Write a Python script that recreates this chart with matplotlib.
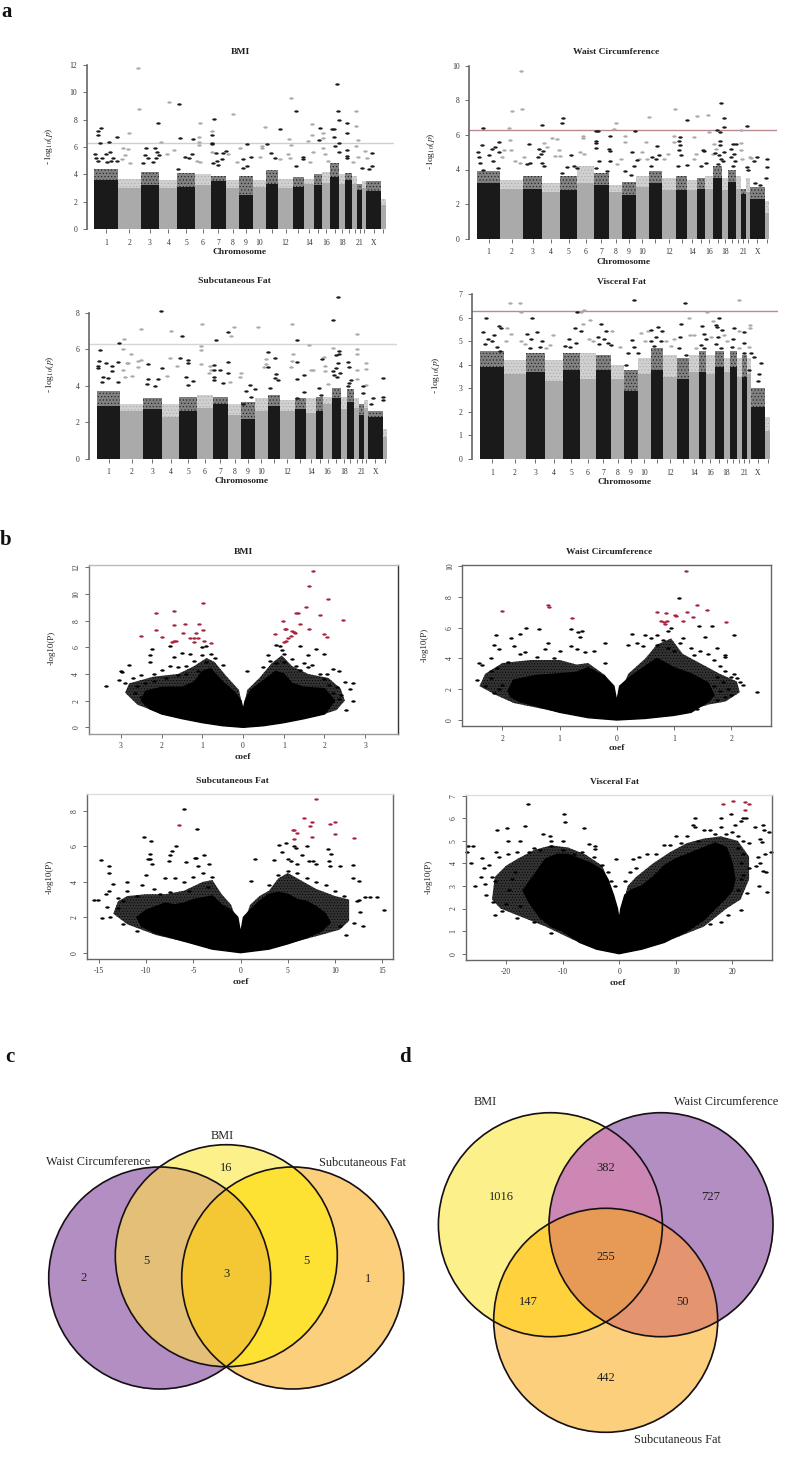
import numpy as np
import matplotlib
matplotlib.use('Agg')
import matplotlib.pyplot as plt
from matplotlib.markers import MarkerStyle
from matplotlib.patches import Circle
from matplotlib.transforms import Affine2D

plt.rcParams['font.family'] = ['Liberation Serif', 'DejaVu Serif']
plt.rcParams['mathtext.fontset'] = 'stix'
plt.rcParams['hatch.linewidth'] = 0.4

W, H = 800, 1459

# Manhattan: chromosome widths along the genome axis, tick labels
chrom_width = [71, 68, 56, 54, 52, 48, 46, 40, 40, 39, 38, 43, 34, 30, 23, 25, 27, 18, 22, 15, 15, 12, 44, 14]
chrom_labels = ['1', '2', '3', '4', '5', '6', '7', '8', '9', '10', '', '12', '', '14', '', '16', '', '18', '', '', '21', '', 'X', '']

# height of the solid part and of the speckled part, per chromosome
bmi_solid = [3.6, 3.0, 3.2, 3.0, 3.1, 3.2, 3.5, 3.0, 2.5, 3.1, 3.3, 3.0, 3.1, 3.3, 3.2, 3.4, 3.8, 3.3, 3.6, 3.3, 2.9, 3.0, 2.8, 1.8]
bmi_band = [4.4, 3.7, 4.2, 3.6, 4.1, 4.0, 3.9, 3.6, 3.9, 3.6, 4.3, 3.7, 3.8, 3.7, 4.0, 4.2, 4.8, 4.0, 4.1, 3.9, 3.3, 3.5, 3.5, 2.2]
waist_solid = [3.2, 2.9, 2.9, 2.7, 2.8, 3.2, 3.1, 2.7, 2.5, 3.0, 3.2, 2.8, 2.8, 2.8, 2.9, 2.9, 3.5, 2.8, 3.3, 2.9, 2.6, 2.7, 2.3, 1.5]
waist_band = [3.9, 3.4, 3.6, 3.2, 3.6, 4.2, 3.8, 3.1, 3.3, 3.6, 3.9, 3.5, 3.6, 3.4, 3.5, 3.6, 4.2, 3.5, 4.0, 3.6, 2.9, 3.5, 3.0, 2.2]
sub_solid = [2.9, 2.6, 2.7, 2.3, 2.6, 2.8, 3.0, 2.4, 2.2, 2.6, 2.9, 2.6, 2.7, 2.5, 2.6, 3.0, 3.3, 2.7, 3.1, 2.8, 2.4, 2.8, 2.3, 1.2]
sub_band = [3.7, 3.0, 3.3, 3.0, 3.4, 3.5, 3.4, 3.0, 3.1, 3.3, 3.5, 3.2, 3.3, 3.3, 3.4, 3.4, 3.9, 3.4, 3.8, 3.3, 3.0, 3.2, 2.6, 1.6]
visc_solid = [3.9, 3.6, 3.7, 3.3, 3.8, 3.4, 3.8, 3.4, 2.9, 3.6, 3.8, 3.5, 3.4, 3.7, 3.7, 3.6, 3.9, 3.7, 3.9, 3.5, 3.5, 3.6, 2.2, 1.2]
visc_band = [4.6, 4.2, 4.5, 4.2, 4.5, 4.5, 4.4, 4.0, 3.8, 4.3, 4.7, 4.4, 4.3, 4.4, 4.6, 4.4, 4.6, 4.3, 4.6, 4.3, 4.4, 4.3, 3.0, 1.8]

# top points (genome position + panel start, -log10 p)
bmi_dark = [(293, 7.2), (302, 7.4), (293, 6.85), (300, 6.3), (328, 6.4), (352, 6.7), (286, 5.5), (287, 5.2), (318, 5.5), (330, 5.6), (305, 5.2), (338, 5.2), (352, 5.0), (334, 5.0), (295, 5.0), (320, 4.9),
            (438, 5.95), (466, 5.9), (475, 7.75), (436, 5.4), (472, 5.6), (476, 5.4), (468, 5.2), (445, 5.2), (430, 4.8), (460, 4.9),
            (536, 9.1), (540, 6.65), (578, 6.55), (556, 5.25), (566, 5.2), (575, 5.5), (535, 4.4),
            (643, 8.05), (636, 6.85), (636, 6.3), (636, 6.2), (648, 5.55), (668, 5.55), (677, 5.7), (650, 5.0), (665, 5.1), (640, 4.8), (655, 4.7),
            (742, 6.2), (730, 5.1), (752, 5.25), (742, 4.6), (728, 4.5), (800, 6.2), (813, 5.55), (825, 5.2), (840, 7.3), (888, 8.6), (888, 4.6), (908, 5.3), (908, 5.15),
            (960, 7.35), (958, 6.5), (1010, 10.6), (1015, 8.6), (1017, 7.95), (1003, 7.3), (995, 7.3), (1002, 6.75), (1017, 6.3), (1005, 6.05), (1018, 5.65),
            (1040, 7.75), (1042, 7.0), (1040, 5.8), (1040, 5.35), (1040, 5.2), (1085, 4.5), (1115, 5.55), (1115, 4.6), (1108, 4.4)]
bmi_light = [(414, 11.75), (416, 8.8), (387, 7.05), (507, 9.3), (600, 7.75), (698, 8.4), (872, 9.6), (1067, 8.65), (1067, 7.5), (1073, 6.5), (1067, 6.1), (796, 7.45), (866, 6.6), (936, 7.7), (936, 6.85), (968, 7.0), (968, 6.65), (925, 6.45), (873, 6.15), (483, 6.35),
             (597, 6.7), (597, 6.4), (597, 6.15), (635, 7.2), (720, 5.9), (785, 6.05), (785, 5.9), (370, 5.95), (384, 5.85), (375, 5.4), (365, 5.1), (390, 4.8), (500, 5.5), (522, 5.75), (590, 5.0), (600, 4.9), (635, 5.6), (685, 5.5), (710, 4.9), (780, 5.3), (840, 5.1), (865, 5.5), (870, 5.2), (930, 4.9), (940, 5.6), (970, 5.9), (975, 5.5), (985, 5.0), (1060, 4.9), (1075, 5.3), (1095, 5.7), (1100, 5.2)]
waist_dark = [(248, 6.4), (246, 5.4), (233, 5.0), (236, 4.7), (297, 5.6), (286, 5.3), (275, 5.2), (266, 4.85), (298, 5.0), (280, 4.5), (295, 4.1), (240, 4.4), (250, 4.0),
              (424, 6.6), (387, 5.45), (415, 5.2), (428, 5.05), (423, 4.9), (412, 4.7), (388, 4.4), (425, 4.35), (380, 4.3), (430, 4.2),
              (487, 7.0), (485, 6.7), (511, 4.85), (485, 3.8), (500, 4.15), (520, 4.2), (530, 4.1),
              (587, 6.25), (593, 6.2), (585, 5.65), (585, 5.55), (585, 5.25), (628, 5.95), (625, 5.2), (628, 5.05), (628, 4.5), (595, 4.5), (585, 4.1), (620, 3.9),
              (702, 6.2), (695, 5.0), (710, 4.55), (700, 4.2), (672, 3.9), (690, 3.7), (770, 5.35), (775, 4.85), (765, 4.6), (755, 4.7), (750, 4.2),
              (857, 6.85), (838, 5.9), (833, 5.65), (838, 5.4), (833, 5.1), (840, 4.85), (858, 4.25), (832, 4.2), (905, 5.1), (910, 5.05), (915, 4.4), (900, 4.2),
              (961, 7.85), (968, 7.0), (968, 6.45), (947, 6.3), (956, 6.15), (956, 5.65), (956, 5.4), (943, 4.95), (955, 4.85), (968, 5.0), (960, 4.6), (965, 4.5), (950, 4.3),
              (995, 5.45), (1005, 5.45), (990, 5.2), (1000, 4.9), (990, 4.7), (1003, 4.5), (995, 4.2), (1038, 6.5), (1038, 4.15), (1040, 4.0),
              (1068, 4.7), (1058, 4.5), (1097, 4.6), (1097, 4.15), (1095, 3.5), (1075, 3.1), (1060, 3.2)]
waist_light = [(362, 9.7), (334, 7.4), (364, 7.5), (325, 6.4), (328, 5.7), (312, 5.1), (332, 5.1), (345, 4.5), (360, 4.4), (370, 4.75), (305, 4.7), (430, 5.55), (455, 5.8), (471, 5.75), (475, 5.1), (440, 5.3), (465, 4.8), (478, 4.8),
               (547, 5.95), (547, 5.8), (540, 5.0), (550, 4.9), (640, 6.35), (647, 6.7), (672, 5.95), (672, 5.6), (660, 4.6), (650, 4.3), (745, 7.05), (735, 5.6), (725, 5.0), (715, 4.6), (740, 4.6), (823, 7.5), (820, 5.95), (818, 5.6), (800, 4.9), (790, 4.6),
               (880, 5.85), (887, 7.1), (921, 7.15), (925, 6.15), (885, 4.9), (878, 4.6), (940, 5.5), (945, 5.2), (935, 4.9), (1020, 6.3), (1018, 5.55), (1020, 5.1), (1022, 4.6), (1045, 4.7), (1050, 4.65)]
sub_dark = [(300, 5.95), (298, 5.35), (295, 5.1), (293, 4.95), (318, 5.25), (335, 5.1), (355, 5.3), (357, 6.35), (335, 4.8), (325, 4.4), (310, 4.5), (305, 4.2), (355, 4.2),
            (445, 5.2), (483, 8.1), (486, 4.95), (475, 4.35), (445, 4.35), (465, 4.0), (440, 4.1), (547, 6.75), (542, 5.5), (564, 5.4), (564, 5.25), (558, 4.5), (580, 4.25), (565, 4.05),
            (649, 6.5), (684, 6.95), (684, 5.3), (684, 4.7), (660, 4.85), (642, 5.15), (642, 4.85), (642, 4.5), (642, 4.3), (670, 4.15), (750, 4.05), (738, 3.7), (765, 3.8), (730, 3.0), (755, 3.4),
            (806, 5.85), (825, 5.5), (806, 5.0), (830, 4.65), (825, 4.4), (835, 4.3), (810, 3.9), (893, 6.5), (891, 5.3), (891, 4.35), (912, 4.6), (913, 3.65), (892, 3.3), (967, 5.45), (958, 3.85), (965, 3.5),
            (1000, 7.6), (1016, 8.85), (1020, 5.9), (1020, 5.75), (1010, 5.7), (1015, 5.25), (1010, 4.95), (1005, 4.6), (1012, 4.5), (1022, 4.7), (1000, 4.8), (1047, 5.3), (1049, 5.0), (1050, 4.15), (1055, 4.3), (1045, 4.0),
            (1090, 4.0), (1090, 3.6), (1150, 4.4), (1150, 3.4), (1150, 3.2), (1120, 3.35), (1115, 3.0)]
sub_light = [(373, 6.55), (368, 6.0), (393, 5.75), (368, 4.85), (375, 4.5), (385, 5.25), (380, 5.25), (395, 4.55), (415, 5.35), (423, 5.4), (414, 5.05), (422, 7.1), (514, 7.0), (510, 5.5), (532, 5.1), (500, 4.55),
             (606, 7.4), (603, 6.15), (603, 5.95), (603, 5.2), (630, 5.1), (633, 4.85), (628, 4.7), (703, 7.2), (693, 6.7), (724, 4.7), (722, 4.45), (690, 4.2), (775, 7.2), (878, 7.4), (880, 5.75), (878, 5.35), (875, 5.0), (798, 5.45), (800, 5.2), (792, 5.0),
             (930, 6.25), (935, 4.85), (942, 4.85), (1000, 6.05), (975, 5.6), (977, 5.1), (977, 4.8), (985, 4.1), (1073, 6.85), (1073, 6.0), (1073, 5.75), (1100, 5.25), (1100, 4.9), (1072, 4.85), (1072, 4.35), (1100, 4.05)]
visc_dark = [(258, 6.0), (249, 5.4), (283, 5.25), (298, 5.65), (302, 5.55), (265, 5.1), (275, 5.0), (255, 4.9), (290, 4.75), (300, 4.6), (383, 5.3), (398, 6.0), (413, 5.4), (393, 5.1), (428, 5.0), (420, 4.75), (390, 4.7),
             (532, 6.25), (526, 5.55), (543, 5.45), (507, 5.1), (530, 4.95), (495, 4.8), (512, 4.75), (605, 5.75), (620, 5.45), (597, 5.2), (615, 5.1), (625, 4.95), (635, 4.85), (600, 4.9),
             (705, 6.75), (697, 5.05), (703, 4.75), (687, 4.5), (715, 4.5), (680, 4.0), (755, 5.5), (775, 5.6), (788, 5.45), (770, 5.2), (755, 5.0), (785, 5.0), (765, 4.8),
             (857, 6.65), (845, 5.75), (843, 5.2), (840, 4.7), (862, 4.4), (910, 5.65), (915, 5.3), (922, 5.1), (905, 4.85), (915, 4.7), (960, 6.0), (950, 5.7), (955, 5.6), (968, 5.5), (957, 5.2), (950, 4.9), (965, 4.7),
             (1007, 5.55), (1003, 5.1), (1000, 4.75), (1037, 5.4), (1035, 4.95), (1037, 4.5), (1058, 4.5), (1067, 4.35), (1088, 4.1), (1050, 3.8), (1080, 3.6), (1078, 3.3)]
visc_light = [(330, 6.65), (360, 6.62), (363, 6.25), (320, 5.55), (318, 5.0), (333, 5.3), (365, 5.0), (375, 4.9), (460, 5.25), (450, 4.85), (440, 4.7), (543, 6.25), (552, 6.35), (550, 5.75), (573, 5.9), (570, 5.1), (580, 5.0), (637, 5.45), (663, 4.75),
              (725, 5.35), (745, 5.45), (738, 5.0), (800, 5.0), (825, 5.1), (815, 4.8), (870, 6.0), (873, 5.25), (885, 5.25), (890, 4.7), (925, 6.25), (943, 5.85), (935, 5.2), (975, 5.25), (985, 5.0), (1022, 6.75), (1053, 5.7), (1053, 5.55), (1020, 5.45), (1050, 4.75), (1020, 4.7)]

# Volcano: outline of the dense cloud and of the speckled zone round it (coef, -log10 p), then separate points
v_bmi_cloud = [(0, 0), (-0.5, 0.12), (-1, 0.35), (-1.5, 0.65), (-2, 1.0), (-2.3, 1.4), (-2.5, 2.0), (-2.4, 2.7), (-2, 3.0), (-1.5, 3.0), (-1.2, 3.4), (-1, 4.2), (-0.8, 4.4), (-0.5, 3.4), (-0.2, 2.6), (-0.05, 2.0), (0, 1.3),
               (0.05, 2.0), (0.2, 2.8), (0.5, 3.5), (0.8, 4.2), (1, 4.0), (1.2, 3.3), (1.5, 3.0), (2, 2.9), (2.25, 2.0), (2.1, 1.4), (2, 1.0), (1.5, 0.65), (1, 0.35), (0.5, 0.12)]
v_bmi_halo = [(0, 0), (-2, 1.0), (-2.6, 1.7), (-2.9, 2.6), (-2.8, 3.3), (-2.2, 3.8), (-1.6, 4.0), (-1.2, 4.6), (-0.9, 5.2), (-0.7, 4.9), (-0.4, 3.8), (-0.1, 2.8), (0, 1.3), (0.1, 2.8), (0.4, 3.7), (0.7, 4.8), (0.95, 5.4), (1.2, 4.6), (1.6, 4.0), (2.1, 3.7), (2.4, 2.9), (2.5, 2.0), (2.3, 1.3), (2, 1)]
v_bmi_red = [(1.72, 11.75), (1.63, 10.6), (2.08, 9.6), (1.55, 9.05), (1.3, 8.6), (1.35, 8.55), (1.9, 8.4), (0.97, 7.95), (2.45, 8.05), (1.4, 7.75), (1.03, 7.4), (1.06, 7.35), (1.63, 7.4), (1.2, 7.25), (1.25, 7.15), (1.27, 7.05), (0.78, 7.0), (1.99, 7.0), (2.05, 6.75), (1.18, 6.85), (1.1, 6.7), (1.05, 6.5), (1.0, 6.4),
             (-0.98, 9.3), (-1.69, 8.75), (-2.13, 8.55), (-1.09, 7.72), (-1.43, 7.75), (-1.7, 7.7), (-2.13, 7.3), (-0.98, 7.3), (-1.48, 7.05), (-1.15, 7.1), (-2.5, 6.85), (-2.0, 6.8), (-1.3, 6.7), (-1.2, 6.7), (-1.1, 6.7), (-1.7, 6.45), (-1.65, 6.45), (-1.75, 6.4), (-1.2, 6.4), (-0.95, 6.45), (-0.8, 6.3)]
v_bmi_black = [(-0.9, 6.1), (-1.0, 6.0), (-2.25, 5.9), (-1.8, 6.1), (-2.3, 5.4), (0.9, 6.1), (0.8, 6.2), (1.4, 6.1), (1.8, 5.9), (2.0, 5.5), (0.95, 5.8), (1.0, 5.5), (1.6, 5.4), (0.6, 5.4), (-1.5, 5.6), (-1.3, 5.5), (-0.8, 5.5), (-1.0, 5.4), (-1.7, 5.3), (-2.3, 4.9), (-2.8, 4.7), (-3.0, 4.25), (-3.37, 3.1), (-3.05, 3.55), (-2.98, 4.17),
               (2.5, 3.4), (2.7, 3.3), (2.71, 2.0), (2.52, 1.28), (2.63, 2.9), (2.4, 2.4), (2.2, 4.4), (2.35, 4.2), (2.3, 3.0), (2.05, 4.0), (0.1, 4.2), (1.3, 4.6), (1.5, 4.8), (1.7, 4.7), (0.5, 4.5), (0.65, 5.0), (0.8, 4.8), (1.0, 4.9), (1.2, 5.1), (1.4, 4.3), (1.6, 4.5), (1.9, 4.0), (2.0, 3.6),
               (-0.5, 4.7), (-0.7, 5.2), (-0.9, 4.9), (-1.2, 5.0), (-1.4, 4.6), (-1.6, 4.5), (-1.8, 4.6), (-2.0, 4.3), (-2.2, 4.0), (-2.5, 3.9), (-2.7, 3.7), (-2.9, 3.3), (-2.6, 3.1), (-2.4, 3.3), (-2.2, 3.5), (-1.9, 3.7), (-1.6, 3.9), (-1.4, 4.0), (-1.1, 4.2), (2.1, 3.2), (2.2, 2.6), (2.35, 2.1), (-2.65, 2.6), (-2.5, 2.3)]
v_waist_cloud = [(0, 0), (-0.5, 0.15), (-1, 0.5), (-1.4, 0.9), (-1.7, 1.2), (-1.85, 1.5), (-1.9, 1.9), (-1.8, 2.6), (-1.4, 2.9), (-1, 3.0), (-0.7, 3.1), (-0.5, 3.4), (-0.2, 2.8), (-0.05, 2.2), (0, 1.2),
                 (0.05, 2.2), (0.2, 2.7), (0.5, 3.5), (0.7, 4.0), (1, 3.4), (1.3, 3.0), (1.6, 2.4), (1.7, 1.6), (1.6, 1.2), (1.3, 0.5), (1, 0.3), (0.5, 0.1)]
v_waist_halo = [(0, 0), (-1, 0.5), (-1.8, 1.1), (-2.1, 1.6), (-2.4, 2.2), (-2.3, 3.0), (-2.0, 3.7), (-1.5, 3.9), (-1.0, 3.9), (-0.7, 3.6), (-0.5, 3.7), (-0.2, 2.9), (0, 1.2), (0.2, 3.0), (0.5, 4.0), (0.7, 4.9), (0.95, 5.3), (1.15, 4.3), (1.5, 3.6), (1.8, 3.0), (2.1, 2.5), (2.15, 1.8), (1.9, 1.2), (1.6, 1.0), (1, 0.3)]
v_waist_red = [(1.21, 9.7), (-1.21, 7.45), (-1.19, 7.35), (-2.0, 7.05), (-0.78, 6.6), (1.41, 7.5), (1.57, 7.15), (0.71, 7.0), (0.86, 6.95), (1.22, 7.0), (1.02, 6.85), (1.03, 6.75), (1.33, 6.7), (1.15, 6.45), (1.91, 6.35), (0.77, 6.4), (0.83, 6.35), (0.87, 6.4), (0.85, 6.25)]
v_waist_black = [(1.08, 7.9), (1.43, 6.1), (1.67, 6.1), (-1.59, 5.95), (-1.36, 5.9), (-2.11, 5.5), (-1.85, 5.35), (-1.69, 5.6), (-0.8, 5.9), (-0.67, 5.7), (-0.6, 5.8), (-0.65, 5.4), (0.27, 5.6), (2.05, 5.5), (1.55, 5.4), (1.75, 4.7), (1.9, 4.2), (1.9, 4.1), (0.9, 5.8), (0.95, 6.0), (0.7, 5.5), (0.5, 5.5), (0.6, 5.3), (0.8, 5.2), (1.1, 5.0), (1.15, 5.3), (0.35, 5.0), (0.2, 4.9), (0.45, 4.8), (0.7, 4.9), (0.9, 4.7), (1.0, 4.5), (1.3, 4.7), (1.45, 4.5), (1.6, 4.3), (1.35, 4.2),
                 (-2.15, 4.9), (-2.05, 4.6), (-1.8, 4.8), (-1.6, 4.4), (-1.7, 4.3), (-2.2, 4.0), (-2.4, 3.7), (-2.35, 3.6), (-2.2, 3.2), (-2.1, 3.4), (-1.9, 3.8), (-1.2, 5.0), (-1.25, 4.6), (-1.0, 4.5), (-0.8, 4.8), (-0.7, 4.6), (-0.55, 4.4), (-0.2, 5.0), (-0.4, 4.5), (-1.4, 4.1), (-1.1, 4.0), (-0.2, 3.7),
                 (-2.45, 2.6), (-2.3, 2.2), (-2.2, 2.7), (-2.05, 2.0), (-2.15, 1.75), (-2.0, 2.3), (2.45, 1.8), (2.2, 2.3), (2.1, 2.7), (2.15, 2.5), (1.95, 2.0), (2.0, 2.8), (2.05, 3.0), (2.0, 1.6), (1.9, 1.5), (1.8, 1.9), (1.9, 3.2), (1.8, 3.5), (1.7, 3.9), (1.75, 2.8), (1.85, 2.5), (1.7, 2.2), (1.75, 1.3), (1.4, 0.7)]
v_sub_cloud = [(0, 0), (-3, 0.2), (-5, 0.5), (-7, 0.8), (-9, 1.1), (-10.5, 1.5), (-11, 2.0), (-10, 2.4), (-9, 2.6), (-8, 2.8), (-7, 2.7), (-6, 2.8), (-5, 3.0), (-4, 3.1), (-3, 3.2), (-2, 2.7), (-1, 2.4), (-0.3, 2.0), (0, 1.1),
               (0.3, 2.0), (1, 2.4), (2, 2.9), (3, 3.3), (4, 3.4), (5, 3.3), (6, 3.0), (7, 2.9), (8, 2.6), (9, 2.2), (9.5, 1.7), (8.5, 1.2), (7, 0.85), (5, 0.5), (3, 0.2)]
v_sub_halo = [(0, 0), (-5, 0.5), (-9, 1.0), (-12, 1.6), (-13.5, 2.2), (-13, 2.9), (-12, 3.2), (-10, 3.3), (-8, 3.3), (-6, 3.5), (-4, 4.0), (-3, 4.1), (-2, 3.3), (-1, 2.7), (0, 1.1), (1, 2.7), (2, 3.2), (3, 3.5), (4, 4.2), (5, 4.5), (6, 4.2), (8, 3.6), (10, 3.2), (11.5, 3.0), (11.5, 1.8), (10.5, 1.3), (8.5, 1.0), (5, 0.5)]
v_sub_red = [(-6.5, 7.2), (5.5, 6.9), (5.7, 6.95), (6, 6.75), (5.7, 6.4), (12, 6.5), (7.3, 7.15), (7.6, 7.4), (9.5, 7.25), (10, 7.4), (10, 6.7), (7.6, 6.55), (6.7, 7.6), (8, 8.65)]
v_sub_black = [(-6, 8.1), (-4.6, 7.0), (-10.2, 6.55), (-9.5, 6.3), (-6.9, 6.0), (-7.3, 5.75), (-7.5, 5.5), (-7.6, 5.2), (-9.6, 5.55), (-9.8, 5.3), (-9.6, 5.3), (-9.4, 5.0), (-14.8, 5.25), (-13.9, 4.9), (-14, 4.5), (-4.8, 5.35), (-4.7, 5.35), (-3.9, 5.5), (-5.8, 5.1), (-4.5, 4.9), (-3.3, 5.0), (1.5, 5.3), (1.1, 4.05), (3.5, 5.25), (4.1, 6.1), (4.8, 6.2), (5.7, 6.0), (5.9, 5.9), (7, 6.0), (4.4, 5.7), (5, 5.3), (5.3, 5.2), (6, 5.0), (6.5, 5.5), (7.2, 5.2), (7.7, 5.2), (8, 5.0), (9.3, 5.85), (9.6, 5.6), (9.4, 5.2), (9.5, 4.9), (10.5, 4.9), (11.9, 4.95), (11.9, 4.2), (12.5, 4.05),
               (13.2, 3.15), (13.7, 3.15), (14.4, 3.15), (15.2, 2.43), (12.5, 3.0), (12.3, 2.9), (12.6, 2.3), (13, 1.5), (12, 1.7), (11.2, 1.0), (10.5, 1.5), (11, 3.2), (10, 3.5), (9, 3.8), (8, 4.0), (7, 4.2), (6, 4.5), (5, 4.6), (4, 4.4), (3, 3.8), (-15.5, 2.95), (-15.1, 3.0), (-14.3, 3.3), (-13.9, 3.5), (-14.2, 2.6), (-13.8, 2), (-14.7, 1.95), (-13.5, 3.9), (-13, 2.5), (-12.5, 1.6), (-12, 4), (-12, 3.5), (-11, 1.2), (-11, 3.2), (-10, 4.4), (-10.5, 3.8), (-9.2, 3.6), (-8, 4.2), (-7, 4.2), (-6, 4.0), (-5, 4.3), (-4, 4.5), (-3, 4.3), (-3.5, 3.7), (-5.5, 3.5), (-7.5, 3.4), (-8.5, 3.3), (-12.5, 2.9), (-13, 3.1)]
v_visc_cloud = [(0, 0), (-4, 0.2), (-7, 0.5), (-10, 1.0), (-12, 1.2), (-14, 1.6), (-16, 2.3), (-17, 2.8), (-15, 3.5), (-13, 4.2), (-11, 4.4), (-9, 4.4), (-7, 4.2), (-5, 4.0), (-3, 3.7), (-2, 3.3), (-1, 2.6), (-0.3, 2.0), (0, 1.5),
                (0.3, 2.0), (1, 2.6), (2, 2.8), (4, 3.0), (6, 3.4), (8, 3.9), (10, 4.2), (13, 4.5), (15, 4.7), (17, 4.9), (19, 4.7), (20, 4.0), (20.5, 3.3), (20, 2.8), (19, 2.5), (17, 2.0), (15, 1.5), (12, 1.0), (8, 0.5), (4, 0.2)]
v_visc_halo = [(0, 0), (-8, 0.6), (-13, 1.2), (-18, 1.7), (-21, 2.0), (-22.5, 2.4), (-22, 3.4), (-20, 3.9), (-18, 4.2), (-15, 4.6), (-12, 4.8), (-9, 4.7), (-6, 4.4), (-3, 3.9), (-1.5, 3), (0, 1.5), (1.5, 3.0), (3, 3.4), (6, 4.0), (9, 4.5), (12, 4.9), (15, 5.1), (18, 5.2), (21, 5.0), (23, 4.3), (23, 3.3), (21.5, 2.4), (19, 2.0), (15, 1.2), (10, 0.7)]
v_visc_red = [(18.3, 6.65), (20.1, 6.75), (22.2, 6.72), (22.9, 6.65), (22.2, 6.37)]
v_visc_black = [(-16.2, 6.65), (-9.7, 6.2), (-9.6, 5.85), (-6.2, 5.55), (-16.6, 5.65), (-21.6, 5.5), (-19.9, 5.55), (-19.6, 5.0), (-17.6, 5.0), (-13.5, 5.3), (-12.3, 5.2), (-12, 5.0), (-10, 5.0), (-5.4, 4.85), (-4.2, 4.75), (-4.2, 4.65), (-25.8, 4.75), (-26.7, 4.75), (-26.9, 4.5), (-26.3, 4.0), (-24.2, 4.25), (-23, 3.95), (-24, 3.8), (-21.8, 4.5), (-21.2, 4.3), (-19.7, 4.4), (-18, 4.5), (-16, 4.5), (-15, 4.7), (-14, 4.6), (-12, 4.75), (-10, 4.6), (-8, 4.4), (-6.5, 4.5), (-4.5, 4.3), (-3, 3.95), (-0.5, 4.2),
                (-24.5, 3.4), (-25.5, 3.0), (-23.8, 3.1), (-23.5, 2.6), (-22.5, 3.4), (-22, 3.2), (-22.4, 2.3), (-22, 1.7), (-20.8, 1.9), (-20, 2.2), (-19.5, 2.8), (-19, 3.3), (-18.5, 3.6), (-17.5, 2.1), (-18, 1.6), (-15, 1.4), (-12, 0.9),
                (13.5, 5.6), (13, 5.7), (13.5, 6.0), (16, 5.5), (18, 6.0), (19.8, 6.2), (21.5, 5.9), (20.5, 5.7), (22, 6.0), (22.5, 6.0), (24, 5.6), (25.5, 5.7), (25.6, 5.5), (26.5, 5.4), (25, 5.1), (25.3, 4.95), (26.8, 4.5), (24.5, 4.3), (25.8, 4.4), (25, 4), (24.3, 3.9), (25.5, 3.65), (26, 3.6), (24.8, 3.0), (26.2, 2.75), (22.6, 2.7), (21.5, 1.95), (21, 2.8), (19.3, 1.7), (18, 1.4), (16, 1.3),
                (10, 5.2), (8, 4.8), (9, 4.8), (6.5, 4.4), (5, 4.4), (3.5, 4.3), (2.5, 4.2), (11, 4.9), (12, 5.2), (14, 5.0), (15, 5.5), (17, 5.3), (18, 5.6), (19, 5.3), (20, 5.4), (21, 5.2), (22, 5.0), (23, 4.9), (21, 4.7), (22, 4.4), (21.5, 4), (22, 3.5), (23, 3.8), (21.5, 3.3), (2, 3.6), (3, 3.8), (1, 3.2), (-0.8, 3.0), (-2, 3.6), (-1.5, 3.2)]

# Venn counts
venn_c_counts = [16, 5, 2, 3, 5, 1]
venn_d_counts = [382, 1016, 727, 255, 147, 50, 442]

DARK, LIGHT, RED = '#1a1a1a', '#aaaaaa', '#a8243c'
dot = MarkerStyle('o', transform=Affine2D().scale(1.6, 0.85))

fig = plt.figure(figsize=(W / 100, H / 100), dpi=100)


def px_axes(left, right, top, bottom):
    return fig.add_axes([left / W, 1 - bottom / H, (right - left) / W, (bottom - top) / H])


over = fig.add_axes([0, 0, 1, 1], zorder=5)
over.set_xlim(0, W)
over.set_ylim(H, 0)
over.axis('off')


def label(x, y, s, size=7, **kw):
    over.text(x, y, s, fontsize=size, ha=kw.pop('ha', 'center'), va='center', color=kw.pop('color', '#222222'), **kw)


def manhattan(box, g0, g1, ytop, yticks, solid, band, dark, light, start, line, title, tpos, xpos, ypos):
    left, right, top, bottom = box
    ax = px_axes(left, right, top, bottom)
    k = sum(chrom_width) / (g1 - g0)
    ax.set_xlim((left - g0) * k, (right - g0) * k)
    ax.set_ylim(0, ytop)
    edges = np.concatenate([[0], np.cumsum(chrom_width)])
    cols = [DARK if i % 2 == 0 else LIGHT for i in range(len(chrom_width))]
    ax.bar(edges[:-1], solid, width=chrom_width, align='edge', color=cols, lw=0)
    speck = [matplotlib.colors.to_rgba(c, 0.55) for c in cols]
    ax.bar(edges[:-1], np.array(band) - np.array(solid), bottom=solid, width=chrom_width, align='edge', facecolor=speck, edgecolor=cols, hatch='.....', lw=0)
    ax.axhline(6.3, color=line, lw=1.0, zorder=1)
    for pts, c in [(light, LIGHT), (dark, DARK)]:
        ax.scatter([p[0] - start for p in pts], [p[1] for p in pts], s=4, marker=dot, color=c, lw=0, clip_on=False, zorder=3)
    for s in ['top', 'right', 'bottom']:
        ax.spines[s].set_visible(False)
    ax.spines['left'].set_color('#666666')
    ax.spines['left'].set_linewidth(1.2)
    ax.spines['left'].set_bounds(0, yticks[-1])
    ax.set_yticks(yticks)
    ax.set_xticks((edges[:-1] + edges[1:]) / 2, chrom_labels)
    ax.tick_params(axis='both', length=3, width=0.5, labelsize=5.5, pad=4, colors='#333333')
    ax.patch.set_alpha(0)
    label(tpos[0], tpos[1], title, 6.8, fontweight='bold')
    label(xpos[0], xpos[1], 'Chromosome', 6.8, fontweight='bold')
    label(ypos[0], ypos[1], r'- log$_{10}$($p$)', 6.8, rotation=90)


def volcano(box, xlim, ylim, xticks, xticklabels, yticks, cloud, halo, black, red, spines, title, tpos, xpos, ypos):
    ax = px_axes(*box)
    ax.set_xlim(*xlim)
    ax.set_ylim(*ylim)
    ax.fill([p[0] for p in halo], [p[1] for p in halo], facecolor=(0, 0, 0, 0.8), edgecolor='black', hatch='......', lw=0)
    ax.fill([p[0] for p in cloud], [p[1] for p in cloud], color='black', lw=1)
    ax.scatter([p[0] for p in black], [p[1] for p in black], s=4, marker=dot, color='black', lw=0, clip_on=False)
    ax.scatter([p[0] for p in red], [p[1] for p in red], s=4, marker=dot, color=RED, lw=0, clip_on=False)
    for side, c in spines.items():
        ax.spines[side].set_color(c)
        ax.spines[side].set_linewidth(1.0)
    ax.set_xticks(xticks, xticklabels)
    ax.set_yticks(yticks)
    ax.tick_params(axis='both', length=3, width=0.5, labelsize=5.5, pad=3, colors='#333333')
    ax.tick_params(axis='y', labelrotation=90)
    for t in ax.get_yticklabels():
        t.set_va('center')
    label(tpos[0], tpos[1], title, 6.8, fontweight='bold')
    label(xpos[0], xpos[1], 'coef', 6.8, fontweight='bold')
    label(ypos[0], ypos[1], r'-log10(P)', 6.5, rotation=90)


manhattan((87, 394, 64.7, 229.3), 94.3, 385.7, 12, [0, 2, 4, 6, 8, 10, 12], bmi_solid, bmi_band, bmi_dark, bmi_light, 283, '#cfcfcf',
          'BMI', (240, 51.7), (240, 252.3), (49, 146.7))
manhattan((469.3, 776.7, 65.7, 238.7), 476.7, 769.3, 10, [0, 2, 4, 6, 8, 10], waist_solid, waist_band, waist_dark, waist_light, 230, '#b98a90',
          'Waist Circumference', (615.7, 52.3), (623.3, 262.3), (430.7, 151.7))
manhattan((89.3, 396.7, 312.7, 458.7), 96.7, 387.3, 8, [0, 2, 4, 6, 8], sub_solid, sub_band, sub_dark, sub_light, 290, '#d5d5d5',
          'Subcutaneous Fat', (234, 281), (242, 481), (50, 374))
manhattan((472.3, 777.7, 294.3, 459), 480, 770, 7, list(range(8)), visc_solid, visc_band, visc_dark, visc_light, 240, '#b98a90',
          'Visceral Fat', (621.7, 281.7), (625, 482), (435.7, 375))

volcano((88.7, 397.7, 565, 734), (-3.795, 3.80), (-0.5, 12.175), [-3, -2, -1, 0, 1, 2, 3], ['3', '2', '1', '0', '1', '2', '3'], [0, 2, 4, 6, 8, 10, 12],
        v_bmi_cloud, v_bmi_halo, v_bmi_black, v_bmi_red, {'top': '#bbbbbb', 'left': '#777777', 'right': '#333333', 'bottom': '#999999'},
        'BMI', (243, 551.7), (243, 757), (52, 648))
volcano((462.3, 770.7, 564.7, 726.3), (-2.70, 2.69), (-0.41, 10.09), [-2, -1, 0, 1, 2], ['2', '1', '0', '1', '2'], [0, 2, 4, 6, 8, 10],
        v_waist_cloud, v_waist_halo, v_waist_black, v_waist_red, {'top': '#666666', 'left': '#666666', 'right': '#666666', 'bottom': '#666666'},
        'Waist Circumference', (609, 552), (616.7, 748.3), (425, 645))
volcano((87.3, 393.3, 794, 958.7), (-16.25, 16.18), (-0.34, 8.96), [-15, -10, -5, 0, 5, 10, 15], ['-15', '-10', '-5', '0', '5', '10', '15'], [0, 2, 4, 6, 8],
        v_sub_cloud, v_sub_halo, v_sub_black, v_sub_red, {'top': '#dddddd', 'left': '#666666', 'right': '#666666', 'bottom': '#666666'},
        'Subcutaneous Fat', (232.3, 780.7), (240.7, 981.7), (50, 876.7))
volcano((466, 771.7, 795, 960), (-27.1, 27.0), (-0.28, 7.03), [-20, -10, 0, 10, 20], ['-20', '-10', '0', '10', '20'], list(range(8)),
        v_visc_cloud, v_visc_halo, v_visc_black, v_visc_red, {'top': '#dddddd', 'left': '#666666', 'right': '#666666', 'bottom': '#666666'},
        'Visceral Fat', (615, 781.7), (618.3, 982.7), (429, 876.7))


def venn_fill(circles, colours):
    # colour of each membership combination, on a pixel grid of the figure
    yy, xx = np.mgrid[0:H * 2, 0:W * 2] / 2.0
    code = np.zeros(xx.shape, dtype=int)
    for i, (cx, cy, r) in enumerate(circles):
        code += ((xx - cx) ** 2 + (yy - cy) ** 2 <= r ** 2).astype(int) << i
    img = np.zeros(xx.shape + (4,))
    for key, c in colours.items():
        img[code == key] = matplotlib.colors.to_rgba(c)
    return img


yel, pur, ora = '#fbf08a', '#b48ec2', '#fdcf7d'
c_circles = [(226.3, 1255.7, 111), (159.7, 1278, 111), (292.7, 1278, 111)]
c_cols = {1: yel, 2: pur, 4: ora, 3: '#e4bf78', 5: '#fee233', 6: '#f4c834', 7: '#f4c834'}
d_circles = [(550.4, 1224.7, 112), (661, 1224.7, 112), (605.7, 1320.3, 112)]
d_cols = {1: yel, 2: pur, 4: ora, 3: '#cc87b5', 5: '#ffd23c', 6: '#e4946f', 7: '#e89a56'}
for circles, cols in [(c_circles, c_cols), (d_circles, d_cols)]:
    over.imshow(venn_fill(circles, cols), extent=(0, W, H, 0), interpolation='antialiased', aspect='auto', zorder=1)
    for cx, cy, r in circles:
        over.add_patch(Circle((cx, cy), r, fill=False, ec='#161016', lw=1.2, zorder=2))
over.set_xlim(0, W)
over.set_ylim(H, 0)

for (x, y), n in zip([(226.3, 1168), (146.3, 1260.7), (84, 1278.3), (226.3, 1274.3), (306, 1260.7), (367.7, 1278.7)], venn_c_counts):
    label(x, y, str(n), 9, zorder=3)
for (x, y), n in zip([(605.7, 1168.3), (501, 1197), (710.7, 1197), (605.7, 1257.3), (528.7, 1301.7), (682.7, 1301.7), (605.7, 1378.3)], venn_d_counts):
    label(x, y, str(n), 9, zorder=3)

label(222.7, 1135.7, 'BMI', 8.8, zorder=3)
label(98, 1162.3, 'Waist Circumference', 8.8, zorder=3)
label(362, 1162.7, 'Subcutaneous Fat', 8.8, zorder=3)
label(485.3, 1102, 'BMI', 8.8, zorder=3)
label(726.3, 1102, 'Waist Circumference', 8.8, zorder=3)
label(677.3, 1440.3, 'Subcutaneous Fat', 8.8, zorder=3)

for x, y, s in [(6.7, 11.7, 'a'), (5.7, 540, 'b'), (10, 1057, 'c'), (405, 1057, 'd')]:
    label(x, y, s, 15, fontweight='bold', color='#111111')

fig.savefig('out.png', dpi=100)
